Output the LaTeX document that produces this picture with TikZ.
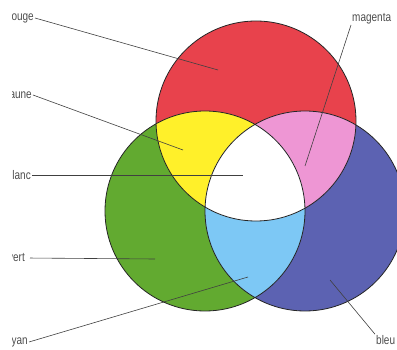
\documentclass[tikz,border=0pt]{standalone}
\usepackage{fontspec}
\setmainfont{Liberation Sans}[FakeStretch=0.8]
\definecolor{rouge}{RGB}{232,66,76}
\definecolor{jaune}{RGB}{255,240,42}
\definecolor{vert}{RGB}{98,170,48}
\definecolor{bleu}{RGB}{92,98,178}
\definecolor{magenta}{RGB}{238,150,212}
\definecolor{cyan}{RGB}{125,200,245}
\tikzset{
  label/.style={inner sep=1pt, font=\fontsize{12.5}{14}\selectfont, text=black!70},
  lead/.style={draw=black!75, line width=.6pt},
  rim/.style={draw=black!85, line width=.8pt}
}
\begin{document}
\begin{tikzpicture}[x=1pt,y=-1pt]
\useasboundingbox (0,0) rectangle (397,350);
\def\r{100pt}
\begin{scope}
\clip (12,0) rectangle (397,350);

% les trois disques
\fill[rouge] (256,121) circle[radius=\r];
\fill[vert] (205,211) circle[radius=\r];
\fill[bleu] (305,211) circle[radius=\r];

% les melanges
\begin{scope}
\clip (256,121) circle[radius=\r];
\fill[jaune] (205,211) circle[radius=\r];
\fill[magenta] (305,211) circle[radius=\r];
\end{scope}
\begin{scope}
\clip (205,211) circle[radius=\r];
\fill[cyan] (305,211) circle[radius=\r];
\clip (256,121) circle[radius=\r];
\fill[white] (305,211) circle[radius=\r];
\end{scope}

\draw[rim] (256,121) circle[radius=\r];
\draw[rim] (205,211) circle[radius=\r];
\draw[rim] (305,211) circle[radius=\r];

% legendes
\node[label, anchor=east] (lrouge) at (35,18) {rouge};
\node[label, anchor=east] (ljaune) at (33,95) {jaune};
\node[label, anchor=east] (lblanc) at (32,175) {blanc};
\node[label, anchor=east] (lvert) at (26,258) {vert};
\node[label, anchor=east] (lcyan) at (29,342) {cyan};
\node[label, anchor=south west] (lmagenta) at (351,25) {magenta};
\node[label, anchor=west] (lbleu) at (375,340) {bleu};

\coordinate (prouge) at (218,70);
\coordinate (pjaune) at (183,150);
\coordinate (pblanc) at (243,175);
\coordinate (pvert) at (155,259);
\coordinate (pcyan) at (248,277);
\coordinate (pmagenta) at (305,166);
\coordinate (pbleu) at (330,280);

\draw[lead] (lrouge.east) -- (prouge);
\draw[lead] (ljaune.east) -- (pjaune);
\draw[lead] (lblanc.east) -- (pblanc);
\draw[lead, shorten <=4pt] (lvert.east) -- (pvert);
\draw[lead] (lcyan.east) -- (pcyan);
\draw[lead] (lmagenta.south west) -- (pmagenta);
\draw[lead] (lbleu.north west) -- (pbleu);
\end{scope}
\end{tikzpicture}
\end{document}
